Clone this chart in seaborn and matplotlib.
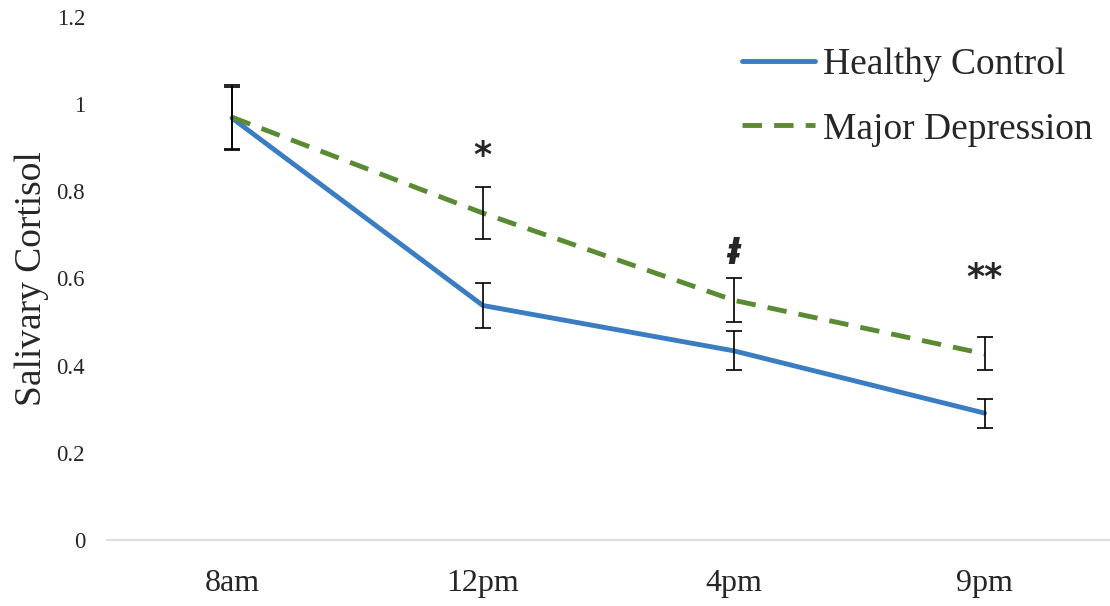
import matplotlib
matplotlib.use("Agg")
import matplotlib.pyplot as plt
import seaborn as sns
import pandas as pd

# values
times = ["8am", "12pm", "4pm", "9pm"]
healthy = [0.968, 0.538, 0.434, 0.291]
healthy_err = [0.072, 0.052, 0.045, 0.033]
depressed = [0.970, 0.750, 0.550, 0.427]
depressed_err = [0.075, 0.060, 0.050, 0.038]
marks = ["*", "ⱡ", "**"]
mark_pos = [1, 2, 3]
mark_y = [0.88, 0.655, 0.60]

groups = ["Healthy Control", "Major Depression"]
colors = {"Healthy Control": "#3A7DC2", "Major Depression": "#5A8A32"}

df = pd.DataFrame({
    "time": times * 2,
    "x": list(range(len(times))) * 2,
    "cortisol": healthy + depressed,
    "err": healthy_err + depressed_err,
    "group": [groups[0]] * len(times) + [groups[1]] * len(times),
})

sns.set_style("white")
plt.rcParams["font.family"] = ["Liberation Serif", "DejaVu Serif"]

fig = plt.figure(figsize=(11.1, 6.06), dpi=100)
ax = fig.add_axes([0.096, 0.109, 0.904, 0.863])

sns.lineplot(data=df, x="x", y="cortisol", hue="group", style="group",
             palette=colors, dashes={groups[0]: "", groups[1]: (4, 2.5)},
             linewidth=3.5, ax=ax, legend=True)

for g in groups:
    sub = df[df["group"] == g]
    ax.errorbar(sub["x"], sub["cortisol"], yerr=sub["err"], fmt="none",
                ecolor="black", elinewidth=1.2, capsize=6, capthick=1.2)

for m, xp, yp in zip(marks, mark_pos, mark_y):
    ax.text(xp, yp, m, ha="center", va="center", fontsize=25,
            fontweight="bold", fontstyle="italic",
            family=["DejaVu Sans"])

ax.set_xlim(-0.5, 3.5)
ax.set_ylim(0, 1.2)
ax.set_xticks(range(len(times)))
ax.set_xticklabels(times, fontsize=23)
ax.set_yticks([0, 0.2, 0.4, 0.6, 0.8, 1, 1.2])
ax.set_yticklabels(["0", "0.2", "0.4", "0.6", "0.8", "1", "1.2"], fontsize=16.5)
ax.tick_params(axis="both", length=0)
ax.tick_params(axis="x", pad=21)
ax.tick_params(axis="y", pad=15.5)
ax.set_xlabel("")
ax.set_ylabel("Salivary Cortisol", fontsize=27, labelpad=5)

for s in ["top", "right", "left"]:
    ax.spines[s].set_visible(False)
ax.spines["bottom"].set_color("#D9D9D9")
ax.spines["bottom"].set_linewidth(1.2)

leg = ax.legend(loc="upper right", bbox_to_anchor=(1.016, 1.006), frameon=False,
                fontsize=27, handlelength=1.95, handletextpad=0.2,
                labelspacing=0.8)
for line in leg.get_lines():
    line.set_linewidth(3.5)

fig.savefig("out.png", dpi=100)
